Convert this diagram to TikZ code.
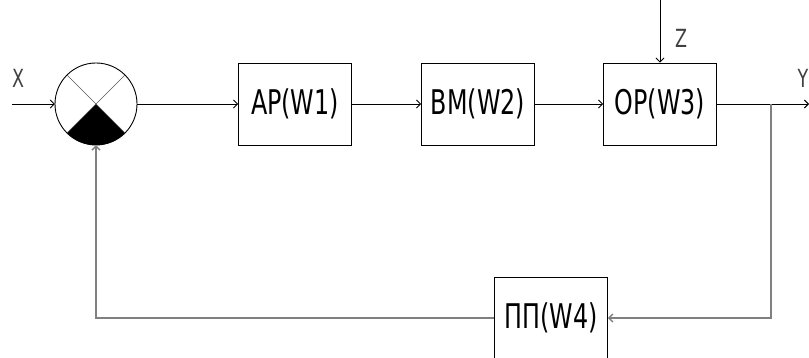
\documentclass[tikz,border=0pt]{standalone}
\usepackage{fontspec}
\setmainfont{DejaVu Sans}[FakeStretch=0.7]
\usetikzlibrary{arrows.meta,calc}

\tikzset{
	blk/.style = {draw, line width=0.9pt, minimum width=113pt, minimum height=82pt, inner sep=0pt, font=\fontsize{34}{34}\selectfont},
	lbl/.style = {font=\fontsize{25}{25}\selectfont, text=black!75},
	sig/.style = {line width=0.9pt, -{Straight Barb[length=4pt,width=8pt]}},
	fb/.style = {sig, draw=black!50, line width=1.3pt}
}

\begin{document}
\begin{tikzpicture}[x=1pt,y=-1pt]

		\useasboundingbox (0,0) rectangle (809,358);

		% summing junction, lower quarter filled
		\coordinate (S) at (96,104);
		\draw [line width=0.9pt, fill=white] (S) circle (41);
		\fill (S) -- ($(S)+(45:41)$) arc (45:135:41) -- cycle;
		\draw [line width=0.7pt, black!65] ($(S)+(-135:41)$) -- ($(S)+(45:41)$);
		\draw [line width=0.7pt, black!65] ($(S)+(-45:41)$) -- ($(S)+(135:41)$);
		\node (sum) at (S) [circle, minimum size=82pt, inner sep=0pt] {};

		% blocks
		\node [blk] (AR) at (295,104) {АР(W1)};
		\node [blk] (VM) at (478,104) {ВМ(W2)};
		\node [blk] (OR) at (660,104) {ОР(W3)};
		\node [blk] (PP) at (551,318) {ПП(W4)};

		\coordinate (X) at (12,104);
		\coordinate (Y) at (809,104);
		\coordinate (Z) at (660,0);
		\coordinate (T) at (771,104);

		\draw [sig] (X) -- (sum);
		\draw [sig] (sum) -- (AR);
		\draw [sig] (AR) -- (VM);
		\draw [sig] (VM) -- (OR);
		\draw [sig] (OR) -- (Y);
		\draw [sig] (Z) -- (OR);

		% feedback loop
		\draw [fb] (T) |- (PP);
		\draw [fb] (PP) -| (sum);

		\node [lbl] (xl) at (18,78) {X};
		\node [lbl] (zl) at (681,38) {Z};
		\node [lbl] (yl) at (803,78) {Y};

\end{tikzpicture}
\end{document}
